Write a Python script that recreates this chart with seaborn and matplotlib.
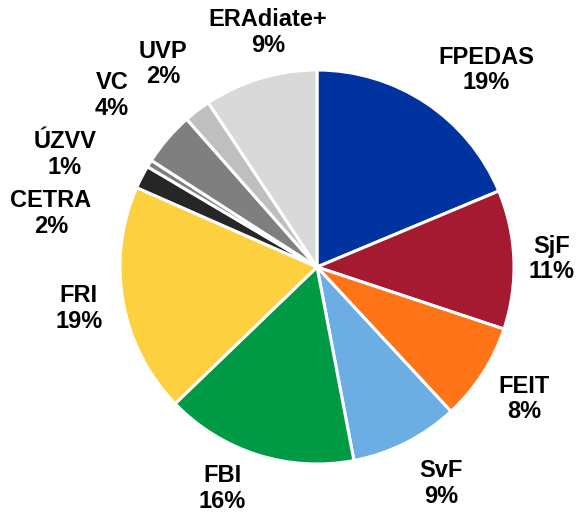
import matplotlib
matplotlib.use('Agg')
import matplotlib.pyplot as plt
import seaborn as sns

# share of each unit (percent)
units = ['FPEDAS', 'SjF', 'FEIT', 'SvF', 'FBI', 'FRI', 'CETRA', 'ÚZVV', 'VC', 'UVP', 'ERAdiate+']
shares = [18.7, 11.4, 8.0, 8.9, 15.8, 18.8, 1.9, 0.6, 4.4, 2.2, 9.3]
colors = ['#0033A0', '#A51931', '#FF7417', '#6CADE4', '#009A44', '#FDD03F',
          '#262626', '#7F7F7F', '#7F7F7F', '#BFBFBF', '#D9D9D9']

# label positions in pie-radius units (hand placed like the original)
label_pos = [(0.86, 1.00), (1.19, 0.04), (1.05, -0.67), (0.63, -1.10), (-0.48, -1.125),
             (-1.21, -0.21), (-1.35, 0.27), (-1.28, 0.57), (-1.04, 0.87), (-0.78, 1.03),
             (-0.25, 1.19)]

sns.set_theme(style='white')
plt.rcParams['font.family'] = ['Liberation Sans', 'DejaVu Sans']

fig = plt.figure(figsize=(5.78, 5.16), dpi=100)
ax = fig.add_axes([0, 0, 1, 1])

wedges, _ = ax.pie(shares, colors=sns.color_palette(colors), startangle=90, counterclock=False,
                   radius=1, wedgeprops=dict(edgecolor='white', linewidth=2.2))

total = sum(shares)
for name, val, (x, y) in zip(units, shares, label_pos):
    ax.text(x, y, f'{name}\n{round(val / total * 100)}%', ha='center', va='center',
            fontsize=17, fontweight='bold', color='black', linespacing=1.15)

# pie centre at (317, 267) px from the top-left, radius 197 px
ax.set_xlim(-317 / 197, (578 - 317) / 197)
ax.set_ylim(-(516 - 267) / 197, 267 / 197)
ax.set_aspect('auto')
ax.axis('off')

fig.savefig('out.png', dpi=100)
